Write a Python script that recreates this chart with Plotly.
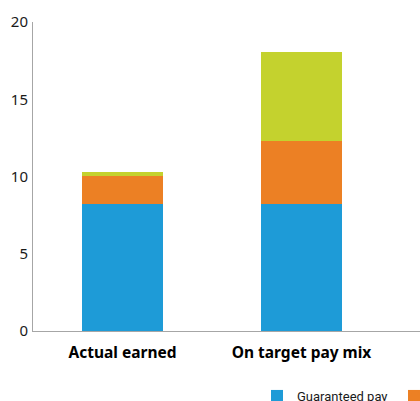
import plotly.graph_objects as go

# Pay mix data (values in currency units, stacked)
categories = ["Actual earned", "On target pay mix"]
series_names = ["Guaranteed pay", "Short-term incentive", "Long-term incentive"]
guaranteed_pay = [8.2, 8.2]
short_term = [1.85, 4.1]
long_term = [0.25, 5.75]
y_ticks = [0, 5, 10, 15, 20]

colors = ["#1e9bd7", "#ec8024", "#c4d22e"]

FONT = "Noto Sans"
W, H = 700, 410
PLOT_TOP, PLOT_BOTTOM, PLOT_LEFT = 22, 331, 33

fig = go.Figure()
for name, vals, col in zip(series_names, [guaranteed_pay, short_term, long_term], colors):
    fig.add_trace(go.Bar(
        x=categories, y=vals, name=name,
        marker=dict(color=col, line=dict(width=0)),
        width=0.45,
    ))

fig.update_layout(
    barmode="stack",
    width=W, height=H,
    margin=dict(l=PLOT_LEFT, r=0, t=PLOT_TOP, b=H - PLOT_BOTTOM, autoexpand=False),
    paper_bgcolor="white", plot_bgcolor="white",
    font=dict(family=FONT, color="#1a1a1a"),
    showlegend=True,
    legend=dict(
        orientation="h",
        x=(257 - PLOT_LEFT) / (W - PLOT_LEFT), xanchor="left",
        y=-(396 - PLOT_BOTTOM) / (PLOT_BOTTOM - PLOT_TOP), yanchor="middle",
        font=dict(size=13, family="Roboto", color="#1a1a1a"),
        entrywidth=92, entrywidthmode="pixels",
        traceorder="normal",
    ),
    xaxis=dict(
        type="category",
        range=[-0.5, -0.5 + (W - PLOT_LEFT) / 179.0],
        showline=True, linecolor="#a6a6a6", linewidth=1,
        showgrid=False, zeroline=False, ticks="",
        tickfont=dict(size=15.5, family=FONT, color="#000000", weight="bold"),
        ticklabelstandoff=7,
    ),
    yaxis=dict(
        range=[0, 20],
        tickvals=y_ticks,
        showline=True, linecolor="#a6a6a6", linewidth=1,
        showgrid=False, zeroline=False, ticks="",
        tickfont=dict(size=15, family=FONT, color="#1a1a1a"),
        ticklabelstandoff=1,
    ),
)

fig.write_html(
    "out.html",
    config={"displayModeBar": False, "responsive": False},
    post_script="document.documentElement.style.overflow='hidden';document.body.style.overflow='hidden';",
)
